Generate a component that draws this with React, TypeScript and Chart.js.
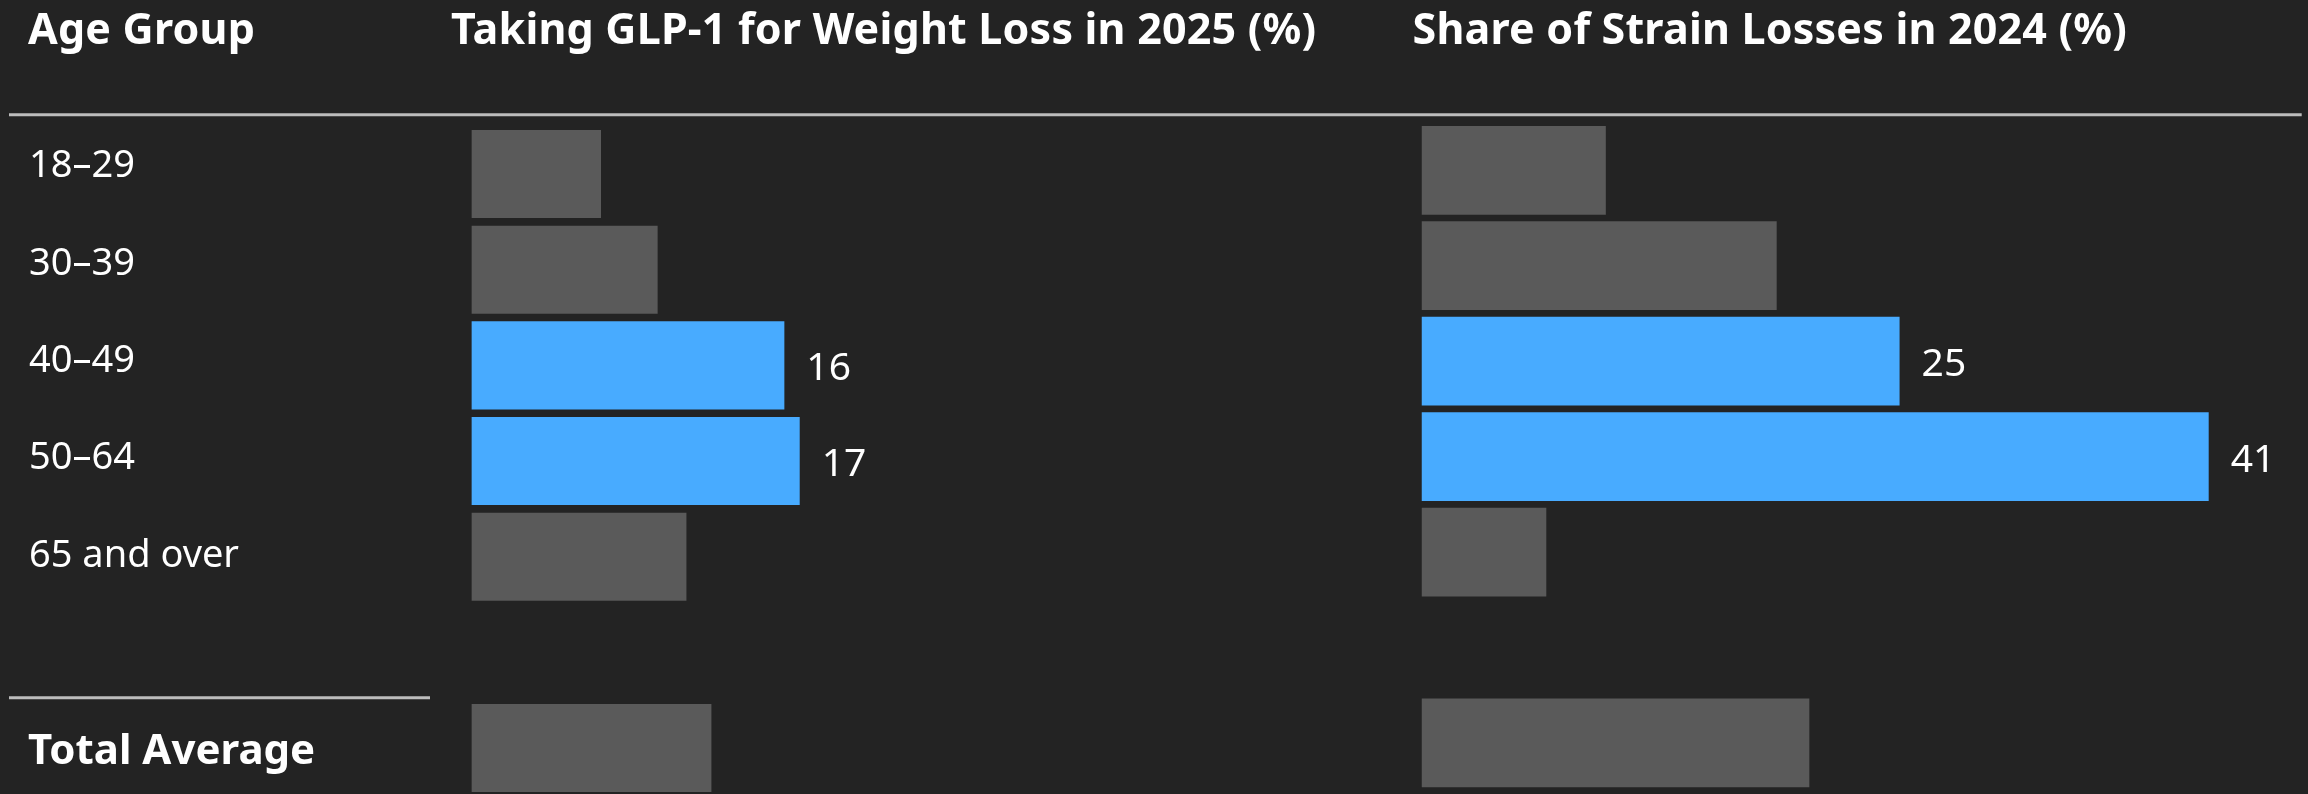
import React, { useEffect, useRef } from "react";
import { Chart, registerables } from "chart.js";

Chart.register(...registerables);

// ---- data ----
const ageGroups = ["18–29", "30–39", "40–49", "50–64", "65 and over"];
const totalLabel = "Total Average";
const categories = [...ageGroups, "", totalLabel];
const glp1Share = [6.75, 9.7, 16.3, 17.1, 11.2];
const glp1Total = 12.5;
const strainShare = [9.6, 18.5, 24.9, 41.0, 6.5];
const strainTotal = 20.2;
const highlightedGroups = ["40–49", "50–64"];
const columnTitles = [
  "Age Group",
  "Taking GLP-1 for Weight Loss in 2025 (%)",
  "Share of Strain Losses in 2024 (%)",
];
const axisMax = 45;

// ---- style ----
const W = 2308;
const H = 794;
const CH = 830;
const BG = "#232323";
const GREY = "#5a5a5a";
const BLUE = "#48abff";
const LINE = "#bcbcbc";
const FONT = '"Noto Sans", "Open Sans", sans-serif';
const PX_PER_UNIT = 19.2;
const LABEL_SPREAD = 1.0175;

const series = (vals: number[], total: number) => [...vals, null, total];
const barColors = categories.map((c) => (highlightedGroups.includes(c) ? BLUE : GREY));

const valueLabelPlugin = {
  id: "valueLabels",
  afterDatasetsDraw(chart: any) {
    const ctx = chart.ctx;
    const meta = chart.getDatasetMeta(0);
    const data = chart.data.datasets[0].data;
    ctx.save();
    ctx.fillStyle = "#ffffff";
    ctx.font = `39px ${FONT}`;
    ctx.textAlign = "left";
    ctx.textBaseline = "alphabetic";
    categories.forEach((c, i) => {
      if (!highlightedGroups.includes(c)) return;
      const el = meta.data[i];
      const v = data[i];
      if (!el || v == null) return;
      ctx.fillText(String(Math.round(v)), el.x + 22, el.y + 15);
    });
    ctx.restore();
  },
};

const frameLabelPlugin = {
  id: "frameLabels",
  afterDatasetsDraw(chart: any) {
    const ctx = chart.ctx;
    const y = chart.scales.y;
    const y0 = y.getPixelForValue(0);
    ctx.save();
    ctx.fillStyle = "#ffffff";
    ctx.textAlign = "left";
    ctx.textBaseline = "alphabetic";
    // column titles
    ctx.font = `bold 43px ${FONT}`;
    try {
      (ctx as any).letterSpacing = "0.2px";
    } catch (e) {}
    ctx.fillText(columnTitles[0], 28, 43.5);
    ctx.fillText(columnTitles[1], 451, 43.5);
    ctx.fillText(columnTitles[2], 1412.5, 43.5);
    try {
      (ctx as any).letterSpacing = "0px";
    } catch (e) {}
    // row labels
    categories.forEach((c, i) => {
      if (!c) return;
      const cy = y.getPixelForValue(i);
      if (c === totalLabel) {
        ctx.font = `bold 42px ${FONT}`;
        ctx.fillText(c, 28, cy + 16);
      } else {
        ctx.font = `38px ${FONT}`;
        ctx.fillText(c, 29, y0 + (cy - y0) * LABEL_SPREAD + 3.3);
      }
    });
    // rules
    ctx.strokeStyle = LINE;
    ctx.lineWidth = 3;
    ctx.beginPath();
    ctx.moveTo(9, 114.7);
    ctx.lineTo(2301.7, 114.7);
    ctx.moveTo(9, 697.7);
    ctx.lineTo(430, 697.7);
    ctx.stroke();
    ctx.restore();
  },
};

function makeConfig(
  values: (number | null)[],
  left: number,
  top: number,
  bottom: number,
  barPct: number,
  plugins: any[]
): any {
  const right = left + axisMax * PX_PER_UNIT;
  return {
    type: "bar",
    data: {
      labels: categories,
      datasets: [
        {
          data: values,
          backgroundColor: barColors,
          borderWidth: 0,
          barPercentage: barPct,
          categoryPercentage: 1,
        },
      ],
    },
    options: {
      indexAxis: "y",
      responsive: false,
      animation: false,
      layout: {
        padding: { left, right: W - right, top, bottom: CH - bottom },
      },
      scales: {
        x: { display: false, min: 0, max: axisMax },
        y: { display: false, offset: true },
      },
      plugins: {
        legend: { display: false },
        tooltip: { enabled: false },
        title: { display: false },
      },
    },
    plugins,
  };
}

function BarPanel({ config }: { config: any }) {
  const ref = useRef<HTMLCanvasElement | null>(null);
  useEffect(() => {
    if (!ref.current) return;
    const chart = new Chart(ref.current, config);
    return () => chart.destroy();
  }, [config]);
  return (
    <canvas
      ref={ref}
      width={W}
      height={CH}
      style={{ position: "absolute", left: 0, top: 0, width: W, height: CH }}
    />
  );
}

const leftConfig = makeConfig(series(glp1Share, glp1Total), 471.4, 126.2, 795.9, 0.92, [
  frameLabelPlugin,
  valueLabelPlugin,
]);
const rightConfig = makeConfig(series(strainShare, strainTotal), 1421.5, 122.6, 790.6, 0.93, [
  valueLabelPlugin,
]);

export default function App() {
  return (
    <div
      style={{
        position: "fixed",
        left: 0,
        top: 0,
        width: W,
        height: H,
        overflow: "hidden",
        background: BG,
      }}
    >
      <BarPanel config={leftConfig} />
      <BarPanel config={rightConfig} />
    </div>
  );
}
